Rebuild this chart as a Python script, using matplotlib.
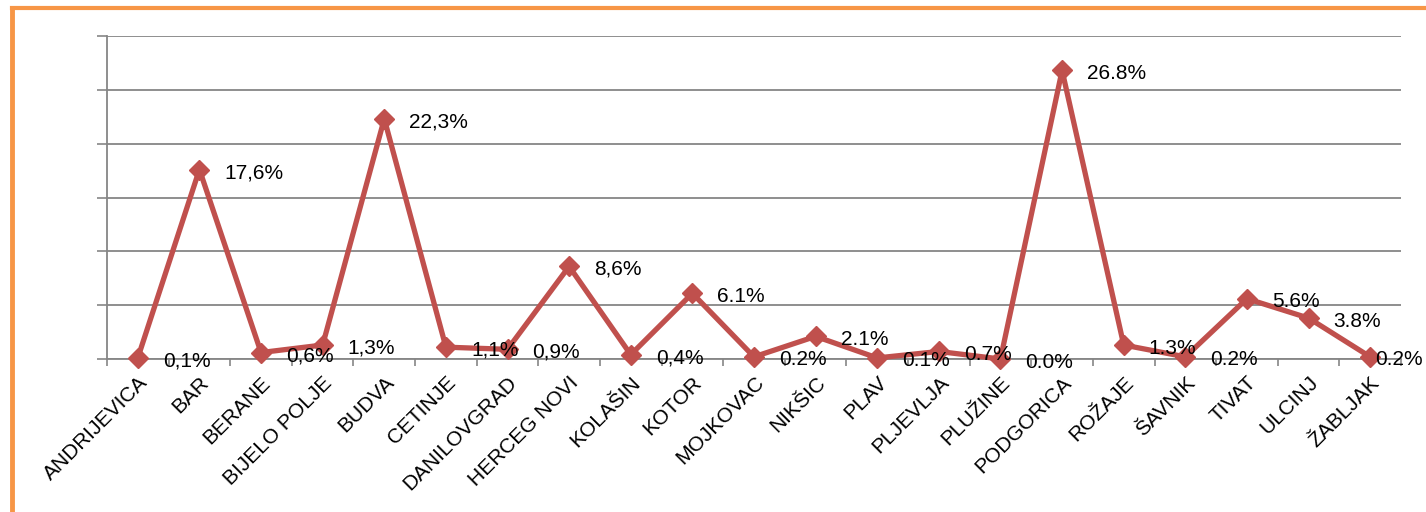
import matplotlib.pyplot as plt
from matplotlib.lines import Line2D

W, H = 1426, 512

municipalities = [
    "ANDRIJEVICA", "BAR", "BERANE", "BIJELO POLJE", "BUDVA", "CETINJE",
    "DANILOVGRAD", "HERCEG NOVI", "KOLAŠIN", "KOTOR", "MOJKOVAC", "NIKŠIC",
    "PLAV", "PLJEVLJA", "PLUŽINE", "PODGORICA", "ROŽAJE", "ŠAVNIK", "TIVAT",
    "ULCINJ", "ŽABLJAK",
]
share = [0.1, 17.6, 0.6, 1.3, 22.3, 1.1, 0.9, 8.6, 0.4, 6.1, 0.2, 2.1,
         0.1, 0.7, 0.0, 26.8, 1.3, 0.2, 5.6, 3.8, 0.2]
labels = ["0,1%", "17,6%", "0,6%", "1,3%", "22,3%", "1,1%", "0,9%", "8,6%",
          "0,4%", "6.1%", "0.2%", "2.1%", "0.1%", "0.7%", "0.0%", "26.8%",
          "1.3%", "0.2%", "5.6%", "3.8%", "0.2%"]

plt.rcParams["font.family"] = ["Liberation Sans", "DejaVu Sans"]

fig = plt.figure(figsize=(W / 100, H / 100), dpi=100)
ax = fig.add_axes([107 / W, 1 - 359 / H, (1401 - 107) / W, (359 - 36) / H])

grid_c = "#868686"
red = "#C0504D"

x = list(range(len(municipalities)))
ax.plot(x, share, color=red, lw=3.8, marker="D", ms=10, mfc=red, mec=red,
        clip_on=False, zorder=5)

# value labels sit right of each point; the last one is pushed onto its marker
for i, (v, lab) in enumerate(zip(share, labels)):
    dx = 25 if i < len(share) - 1 else 5
    ax.annotate(lab, (i, v), xytext=(dx, -3), textcoords="offset pixels",
                ha="left", va="center", fontsize=15, color="black",
                annotation_clip=False, zorder=6)

ax.set_xlim(-0.5, len(municipalities) - 0.5)
ax.set_ylim(0, 30)
ax.set_yticks(range(0, 31, 5))
ax.set_yticklabels([])
ax.yaxis.grid(True, color=grid_c, lw=1.3)
ax.set_axisbelow(True)
ax.tick_params(axis="y", length=7, color=grid_c, width=1.2)

ax.set_xticks(x)
ax.set_xticklabels([])
ax.set_xticks([i - 0.5 for i in range(len(municipalities) + 1)], minor=True)
ax.tick_params(axis="x", which="major", length=0)
ax.tick_params(axis="x", which="minor", length=5, color=grid_c, width=1.2)

for i, name in enumerate(municipalities):
    ax.annotate(name, (i, 0), xytext=(0, -14), textcoords="offset pixels",
                ha="right", va="top", rotation=45, rotation_mode="anchor",
                fontsize=15, annotation_clip=False)

for s in ["top", "right"]:
    ax.spines[s].set_visible(False)
for s in ["left", "bottom"]:
    ax.spines[s].set_color(grid_c)
    ax.spines[s].set_linewidth(1.3)

border = "#F79646"
fig.add_artist(Line2D([12 / W, 12 / W], [0, 1 - 7.5 / H], color=border, lw=3.5))
fig.add_artist(Line2D([12 / W, 1], [1 - 7.5 / H, 1 - 7.5 / H], color=border, lw=3))

fig.savefig("out.png", dpi=100)
